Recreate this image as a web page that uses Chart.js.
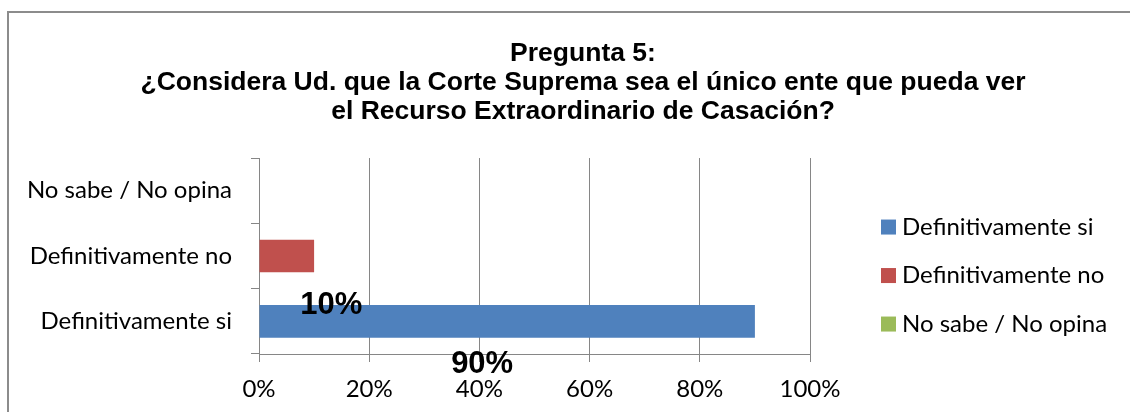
<!DOCTYPE html>
<html>
<head>
<meta charset="utf-8">
<script src="https://cdn.jsdelivr.net/npm/chart.js@4"></script>
<style>
html,body{margin:0;padding:0;background:#fff;}
#wrap{position:relative;width:1130px;height:412px;}
</style>
</head>
<body>
<div id="wrap"><canvas id="c" width="1130" height="412"></canvas></div>
<script>
const titleLines = ['Pregunta 5:', '¿Considera Ud. que la Corte Suprema sea el único ente que pueda ver', 'el Recurso Extraordinario de Casación?'];
const categories = ['Definitivamente si', 'Definitivamente no', 'No sabe / No opina'];
const seriesNames = ['Definitivamente si', 'Definitivamente no', 'No sabe / No opina'];
const siValues = [90, null, null];
const noValues = [null, 10, null];
const nsValues = [null, null, 0];
const xTicks = [0, 20, 40, 60, 80, 100];
const dataLabels = ['10%', '90%'];

const colors = ['#4F81BD', '#C0504D', '#9BBB59'];
const gray = '#868686';
const catFont = {family: 'Lato', size: 24};

const framePlugin = {
  id: 'frame',
  beforeDraw(chart) {
    const ctx = chart.ctx;
    ctx.save();
    ctx.strokeStyle = '#8c8c8c';
    ctx.lineWidth = 2;
    ctx.beginPath();
    ctx.moveTo(8, 420);
    ctx.lineTo(8, 12);
    ctx.lineTo(1140, 12);
    ctx.stroke();
    ctx.restore();
  }
};

const legendPlugin = {
  id: 'sideLegend',
  afterDraw(chart) {
    const ctx = chart.ctx;
    const a = chart.chartArea;
    const x0 = a.right + 71;
    const y0 = a.top + 69;
    const step = 48.5;
    ctx.save();
    ctx.font = catFont.size + 'px ' + catFont.family;
    ctx.textBaseline = 'middle';
    ctx.textAlign = 'left';
    chart.data.datasets.forEach((ds, i) => {
      const y = y0 + i * step;
      ctx.fillStyle = ds.backgroundColor;
      ctx.fillRect(x0, y - 7.5, 15, 15);
      ctx.fillStyle = '#000';
      ctx.fillText(ds.label, x0 + 21, y);
    });
    ctx.restore();
  }
};

const labelPlugin = {
  id: 'valueLabels',
  afterDatasetsDraw(chart) {
    const ctx = chart.ctx;
    const xs = chart.scales.x, ys = chart.scales.y;
    // Labels for "Definitivamente no" (10%) and "Definitivamente si" (90%), placed as in the original
    const anchors = [
      {text: dataLabels[0], x: 13.1, y: 0.245},
      {text: dataLabels[1], x: 40.5, y: -0.655}
    ];
    ctx.save();
    ctx.font = 'bold 31px "Liberation Sans", Arial, sans-serif';
    ctx.fillStyle = '#000';
    ctx.textAlign = 'center';
    ctx.textBaseline = 'middle';
    anchors.forEach(l => {
      ctx.fillText(l.text, xs.getPixelForValue(l.x), ys.getPixelForValue(l.y));
    });
    ctx.restore();
  }
};

new Chart(document.getElementById('c'), {
  type: 'bar',
  data: {
    labels: categories,
    datasets: [
      {label: seriesNames[0], data: siValues, backgroundColor: colors[0]},
      {label: seriesNames[1], data: noValues, backgroundColor: colors[1]},
      {label: seriesNames[2], data: nsValues, backgroundColor: colors[2]}
    ]
  },
  options: {
    indexAxis: 'y',
    responsive: false,
    animation: false,
    devicePixelRatio: 1,
    layout: {padding: {top: 12, right: -36, bottom: 0, left: 0}},
    datasets: {bar: {barPercentage: 0.5, categoryPercentage: 1.0, borderWidth: 0}},
    plugins: {
      legend: {display: false},
      tooltip: {enabled: false},
      title: {
        display: true,
        text: titleLines,
        color: '#000',
        font: {family: '"Liberation Sans", Arial, sans-serif', size: 26.5, weight: 'bold', lineHeight: 1.11},
        padding: {top: 26.5, bottom: 31.3}
      }
    },
    scales: {
      x: {
        stacked: true,
        min: 0, max: 100,
        afterBuildTicks(scale) { scale.ticks = xTicks.map(v => ({value: v})); },
        afterFit(scale) { scale.height = 58; },
        ticks: {
          callback: v => v + '%',
          color: '#000',
          font: catFont,
          padding: 13
        },
        grid: {color: gray, lineWidth: 1, tickLength: 8, drawOnChartArea: true, drawTicks: true},
        border: {display: true, color: gray, width: 1}
      },
      y: {
        stacked: true,
        reverse: true,
        afterFit(scale) { scale.width = 259; },
        ticks: {color: '#000', font: catFont, padding: 19},
        grid: {offset: true, drawOnChartArea: false, drawTicks: true, tickLength: 8, color: gray},
        border: {display: true, color: gray, width: 1}
      },
      legendSpace: {
        type: 'category',
        position: 'right',
        display: true,
        afterFit(scale) { scale.width = 356; },
        ticks: {display: false},
        grid: {display: false, drawTicks: false},
        border: {display: false}
      }
    }
  },
  plugins: [framePlugin, legendPlugin, labelPlugin]
});
</script>
</body>
</html>
